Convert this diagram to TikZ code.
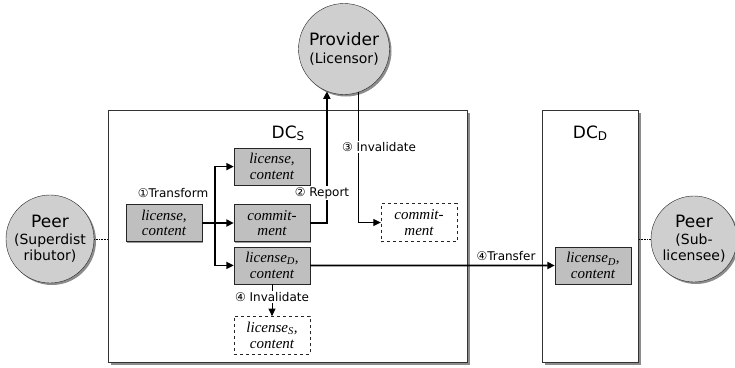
\documentclass[tikz,border=0pt]{standalone}
\usepackage{fontspec}
\setmainfont{DejaVu Sans}
\newfontfamily\itemfont{Liberation Serif}
\usetikzlibrary{arrows.meta, positioning, shadows}

\begin{document}
\begin{tikzpicture}[x=1pt, y=-1pt, line join=miter,
    party/.style={circle, draw=black!85, fill=black!19, inner sep=0pt, align=center,
        font=\fontsize{14}{16}\selectfont,
        drop shadow={shadow xshift=2pt, shadow yshift=-2pt, fill=black!45, opacity=1}},
    dcbox/.style={rectangle, draw=black!80, fill=white, line width=0.8pt,
        minimum height=252pt, inner sep=0pt,
        drop shadow={shadow xshift=3pt, shadow yshift=-3pt, fill=black!45, opacity=1}},
    item/.style={rectangle, draw=black!85, fill=black!25, minimum width=76pt, minimum height=37pt,
        inner sep=0pt, align=center, font=\itemfont\itshape\fontsize{15}{15.5}\selectfont,
        drop shadow={shadow xshift=1pt, shadow yshift=-1pt, fill=black!40, opacity=1}},
    ghost/.style={rectangle, draw=black!85, dashed, fill=white, minimum width=76pt, minimum height=38pt,
        inner sep=0pt, align=center, font=\itemfont\itshape\fontsize{15}{15.5}\selectfont},
    tag/.style={inner sep=1pt, font=\fontsize{12}{13}\selectfont},
    flow/.style={line width=1.7pt, -{Triangle[length=7.5pt, width=7pt]}},
    thinflow/.style={line width=0.9pt, -{Triangle[length=7.5pt, width=7pt]}},
    link/.style={densely dotted, line width=0.6pt}]
    \useasboundingbox (0,0) rectangle (735,367);

    % the two device containers
    \node[dcbox, minimum width=359pt] (dcS) at (287.5,236) {};
    \node[dcbox, minimum width=96pt]  (dcD) at (590,236) {};
    \node[font=\fontsize{17}{17}\selectfont] (dcSname) at (288,133) {DC\raisebox{-0.2ex}{\fontsize{12}{12}\selectfont S}};
    \node[font=\fontsize{17}{17}\selectfont] (dcDname) at (590,133) {DC\raisebox{-0.2ex}{\fontsize{12}{12}\selectfont D}};

    % parties
    \node[party, minimum size=91pt] (provider) at (344,49)
        {{\fontsize{17}{17}\selectfont Provider}\\[2pt](Licensor)};
    \node[party, minimum size=88pt] (peerS) at (50,239)
        {{\fontsize{17}{17}\selectfont Peer}\\[1pt](Superdist\\ributor)};
    \node[party, minimum size=86pt] (peerD) at (694,239)
        {{\fontsize{17}{17}\selectfont Peer}\\[1pt](Sub-\\licensee)};

    % items inside DC_S
    \node[item] (src) at (164,223) {license,\\content};
    \node[item] (commit) at (272,223) {commit-\\ment};
    \node[item, above=19pt of commit] (lic1) {license,\\content};
    \node[item, below=5pt of commit] (licD) {license\textsubscript{D},\\content};
    \node[ghost, below=32pt of licD] (licS) {license\textsubscript{S},\\content};
    \node[ghost] (commitX) at (419,222.5) {commit-\\ment};

    % item inside DC_D
    \node[item] (licDD) at (593,265.5) {license\textsubscript{D},\\content};

    % dotted attachments of the peers
    \draw[link] (peerS) -- (peerS -| dcS.west);
    \draw[link] (peerD) -- (peerD -| dcD.east);

    % (1) transform
    \coordinate (split) at (215,223);
    \draw[flow] (src.east) -- (commit.west);
    \draw[flow] (split) |- (lic1.west);
    \draw[flow] (split) |- (licD.west);

    % (2) report, (3) invalidate
    \draw[flow] (commit.east) -| (provider.-112);
    \draw[thinflow] (provider.-72) |- (commitX.west);

    % (4) transfer and local invalidate
    \draw[flow] (licD.east) -- (licDD.west);
    \draw[thinflow] (licD.south) -- (licS.north);

    % step labels
    \node[tag] (tTransform) at (173,193) {①Transform};
    \node[tag, fill=white] (tReport) at (322,193) {② Report};
    \node[tag, fill=white] (tInvalS) at (379,147) {③ Invalidate};
    \node[tag] (tTransfer) at (506,256) {④Transfer};
    \node[tag, fill=white] (tInvalD) at (272,297) {④ Invalidate};
\end{tikzpicture}
\end{document}
